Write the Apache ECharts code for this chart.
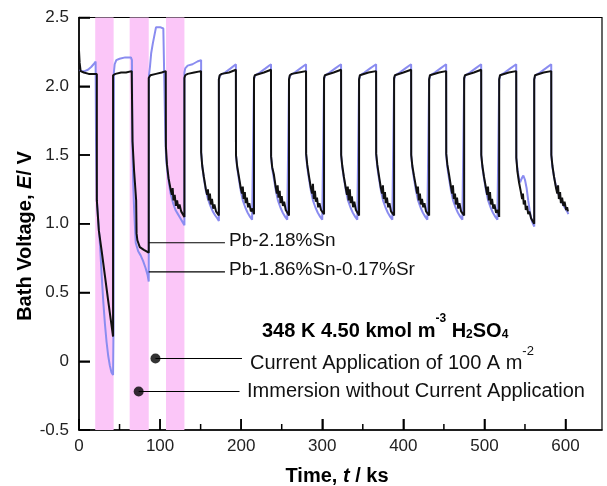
<!DOCTYPE html>
<html>
<head>
<meta charset="utf-8">
<script src="https://cdn.jsdelivr.net/npm/echarts@6/dist/echarts.min.js"></script>
<style>html,body{margin:0;padding:0;background:#fff;}#c{width:607px;height:486px;}</style>
</head>
<body>
<div id="c"></div>
<script>
// ---- data ----
const xTicks = [0, 100, 200, 300, 400, 500, 600];
const xMinorTicks = [50, 150, 250, 350, 450, 550];
const yTicks = [-0.5, 0, 0.5, 1.0, 1.5, 2.0, 2.5];
const bandStart = [20, 62.5, 107.3];
const bandEnd = [42.7, 86, 130];

const seriesNames = ['Pb-2.18%Sn', 'Pb-1.86%Sn-0.17%Sr'];

// Pb-2.18%Sn (black)
const blackData = [
[0,2.26],[0.8,2.17],[2,2.11],[6,2.10],[12,2.09],[22,2.09],
[22,1.17],[24.5,0.95],[28,0.8],[32,0.62],[36,0.44],[39,0.31],[42,0.18],
[42,2.08],[45,2.09],[52,2.10],[58,2.10],[65,2.11],
[66,1.6],[68,1.38],[70.5,1.17],[71,0.93],[72,0.88],[75,0.83],[80,0.81],[86,0.79],
[86,2.06],[88,2.08],[95,2.09],[102,2.10],[107,2.11],
[107.2,1.56],[108.5,1.43],[110.5,1.33],[113,1.25],[114.5,1.21],[115.5,1.26],[116.5,1.17],[118,1.21],[119.5,1.13],[121,1.17],[122.5,1.11],[124,1.14],[126,1.09],[128,1.10],[130,1.05],
[130,2.06],[131,2.08],[134,2.09],[142,2.10],[150.5,2.11],
[150.6,1.52],[152,1.42],[154,1.34],[156.5,1.25],[158,1.21],[159,1.25],[160,1.17],[161.5,1.22],[162.5,1.14],[164,1.18],[165.5,1.11],[167,1.14],[169,1.09],[171,1.1],[172.5,1.06],
[172.5,2.05],[173.5,2.08],[176,2.09],[185,2.10],[193.5,2.12],
[193.6,1.5],[195,1.42],[197,1.35],[199.5,1.26],[201,1.22],[202,1.27],[203,1.18],[204.5,1.23],[205.5,1.15],[207,1.19],[208.5,1.12],[210,1.15],[212,1.09],[214,1.11],[215.8,1.07],
[215.8,2.06],[216.8,2.08],[219,2.09],[228,2.10],[236.8,2.12],
[236.9,1.49],[238.3,1.41],[240.3,1.36],[242.5,1.27],[244,1.22],[245,1.28],[246,1.19],[247.5,1.24],[248.5,1.15],[250,1.2],[251.5,1.13],[253,1.16],[255,1.1],[257,1.11],[259,1.06],
[259,2.05],[260,2.08],[262.5,2.09],[271,2.10],[280,2.11],
[280.1,1.51],[281.5,1.43],[283.5,1.35],[286,1.26],[287.5,1.22],[288.5,1.29],[289.5,1.18],[291,1.24],[292,1.16],[293.5,1.19],[295,1.12],[296.5,1.15],[298.5,1.1],[300.5,1.11],[302.2,1.07],
[302.2,2.06],[303.2,2.08],[305.5,2.09],[314,2.10],[323.2,2.12],
[323.3,1.5],[324.7,1.42],[326.7,1.34],[329,1.26],[330.5,1.21],[331.5,1.27],[332.5,1.17],[334,1.25],[335,1.15],[336.5,1.2],[338,1.12],[339.5,1.16],[341.5,1.1],[343.5,1.11],[345.4,1.06],
[345.4,2.05],[346.4,2.08],[348.5,2.09],[357,2.10],[366.4,2.11],
[366.5,1.51],[367.9,1.43],[369.9,1.35],[372.3,1.26],[373.8,1.22],[374.8,1.28],[375.8,1.18],[377.3,1.23],[378.3,1.15],[379.8,1.19],[381.3,1.12],[382.8,1.15],[384.8,1.09],[386.8,1.1],[388.6,1.06],
[388.6,2.06],[389.6,2.08],[392,2.09],[400,2.10],[409.6,2.12],
[409.7,1.5],[411.1,1.42],[413.1,1.35],[415.5,1.27],[417,1.22],[418,1.27],[419,1.17],[420.5,1.22],[421.5,1.14],[423,1.18],[424.5,1.12],[426,1.15],[428,1.09],[430,1.1],[431.8,1.06],
[431.8,2.05],[432.8,2.08],[435,2.09],[444,2.10],[452.8,2.11],
[452.9,1.51],[454.3,1.43],[456.3,1.36],[458.7,1.27],[460.2,1.22],[461.2,1.28],[462.2,1.18],[463.7,1.22],[464.7,1.14],[466.2,1.19],[467.7,1.11],[469.2,1.15],[471.2,1.09],[473.2,1.1],[475,1.06],
[475,2.06],[476,2.08],[478,2.09],[487,2.10],[496,2.12],
[496.1,1.5],[497.5,1.42],[499.5,1.34],[501.9,1.26],[503.4,1.21],[504.4,1.27],[505.4,1.17],[506.9,1.23],[507.9,1.14],[509.4,1.18],[510.9,1.11],[512.4,1.14],[514.4,1.08],[516.4,1.1],[518.2,1.05],
[518.2,2.05],[519.2,2.08],[521.5,2.09],[530,2.10],[539.2,2.11],
[539.3,1.48],[540.7,1.38],[542.7,1.3],[545,1.23],[546.5,1.18],[547.5,1.22],[548.5,1.14],[550,1.17],[551,1.1],[552.5,1.13],[554,1.07],[555.5,1.09],[557.5,1.04],[559.5,1.05],[561.4,1.0],
[561.4,2.05],[562.4,2.08],[564.5,2.09],[573,2.10],[582.4,2.11],
[582.5,1.5],[583.9,1.42],[585.9,1.34],[588.3,1.26],[589.8,1.22],[590.8,1.28],[591.8,1.18],[593.3,1.23],[594.3,1.15],[595.8,1.19],[597.3,1.13],[598.8,1.16],[600.8,1.1],[602,1.12],[603,1.09]
];

// Pb-1.86%Sn-0.17%Sr (blue)
const blueData = [
[0.5,2.12],[3,2.11],[7,2.11],[11,2.12],[15,2.14],[18,2.16],[20.5,2.18],
[21,1.6],[22,1.17],[24,1.0],[26,0.84],[28,0.62],[30,0.43],[32,0.27],[34,0.14],[36,0.04],[38,-0.03],[40,-0.08],[42,-0.1],
[42.5,0.2],[43,2.1],[44,2.16],[46,2.19],[50,2.2],[57,2.21],[64,2.21],[65.3,2.19],
[65.8,1.6],[66.8,1.3],[68,1.1],[70,0.86],[73,0.8],[76,0.77],[79,0.73],[82,0.68],[84.5,0.63],[86,0.58],
[86.3,2.08],[87.5,2.14],[89,2.24],[91,2.31],[93,2.37],[95,2.43],[100,2.43],[104,2.42],[106.3,2.41],
[106.6,1.6],[107.5,1.47],[109,1.38],[111,1.29],[113,1.22],[116,1.15],[119,1.1],[122,1.07],[125,1.04],[128,1.01],[130,0.99],
[130,2.1],[131,2.13],[134,2.15],[140,2.16],[146,2.18],[150.6,2.19],
[150.7,1.52],[152,1.42],[154,1.33],[156.5,1.24],[159,1.18],[162,1.13],[165,1.09],[168,1.06],[170.5,1.04],[172.5,1.02],
[172.5,2.05],[174,2.08],[180,2.1],[187,2.13],[193.5,2.16],
[193.6,1.5],[195,1.41],[197,1.33],[199.5,1.24],[202,1.17],[205,1.12],[208,1.08],[211,1.05],[213.5,1.03],[215.8,1.02],
[215.8,2.05],[217.3,2.08],[223,2.1],[230,2.13],[236.8,2.16],
[236.9,1.49],[238.3,1.4],[240.3,1.33],[242.8,1.24],[245.3,1.17],[248.3,1.12],[251.3,1.08],[254.3,1.05],[256.8,1.03],[259,1.02],
[259,2.05],[260.5,2.08],[266,2.1],[273,2.13],[280,2.16],
[280.1,1.5],[281.5,1.41],[283.5,1.33],[286,1.24],[288.5,1.17],[291.5,1.12],[294.5,1.08],[297.5,1.05],[300,1.03],[302.2,1.02],
[302.2,2.05],[303.7,2.08],[309,2.1],[316,2.13],[323.2,2.16],
[323.3,1.5],[324.7,1.41],[326.7,1.33],[329.2,1.24],[331.7,1.17],[334.7,1.12],[337.7,1.08],[340.7,1.05],[343.2,1.03],[345.4,1.02],
[345.4,2.05],[346.9,2.08],[352,2.1],[359,2.13],[366.4,2.16],
[366.5,1.5],[367.9,1.41],[369.9,1.33],[372.4,1.24],[374.9,1.17],[377.9,1.12],[380.9,1.08],[383.9,1.05],[386.4,1.03],[388.6,1.02],
[388.6,2.05],[390.1,2.08],[395.5,2.1],[402.5,2.13],[409.6,2.16],
[409.7,1.5],[411.1,1.41],[413.1,1.33],[415.6,1.24],[418.1,1.17],[421.1,1.12],[424.1,1.08],[427.1,1.05],[429.6,1.03],[431.8,1.02],
[431.8,2.05],[433.3,2.08],[438.8,2.1],[445.8,2.13],[452.8,2.16],
[452.9,1.5],[454.3,1.41],[456.3,1.33],[458.8,1.24],[461.3,1.17],[464.3,1.12],[467.3,1.08],[470.3,1.05],[472.8,1.03],[475,1.02],
[475,2.05],[476.5,2.08],[482,2.1],[489,2.13],[496,2.16],
[496.1,1.5],[497.5,1.41],[499.5,1.33],[502,1.24],[504.5,1.17],[507.5,1.12],[510.5,1.08],[513.5,1.05],[516,1.03],[518.2,1.02],
[518.2,2.05],[519.7,2.08],[525,2.1],[532,2.13],[539.2,2.16],
[539.3,1.48],[540.7,1.4],[542.5,1.33],[544,1.3],[546,1.33],[548,1.35],[550,1.32],[552,1.26],[554,1.17],[556,1.09],[558.5,1.02],[561.4,0.98],
[561.4,2.05],[562.9,2.08],[568.5,2.1],[575.5,2.13],[582.4,2.16],
[582.5,1.5],[583.9,1.41],[585.9,1.34],[588.4,1.27],[590.9,1.22],[593.9,1.18],[596.9,1.14],[599.9,1.11],[602,1.09],[603.5,1.07]
];

// annotation anchors (data coordinates)
const leader1 = [[86, 0.862], [180, 0.862]];
const leader2 = [[86, 0.65], [180, 0.65]];
const bulletPts = [[94.3, 0.02], [73.6, -0.22]];
const bulletLine1 = [[94.3, 0.02], [201, 0.02]];
const bulletLine2 = [[73.6, -0.22], [198, -0.22]];

// ---- chart ----
const X_MIN = 0, X_MAX = 645, Y_MIN = -0.5, Y_MAX = 2.5;
const chart = echarts.init(document.getElementById('c'), null, {renderer: 'canvas'});
const FONT = 'Liberation Sans, Arial, Helvetica, sans-serif';
const areas = bandStart.map((s, i) => [{xAxis: s}, {xAxis: bandEnd[i]}]);

const leaderStyle = {color: '#000', width: 1.2};
const option = {
  animation: false,
  backgroundColor: '#fff',
  grid: {left: 79, right: 5, top: 17.5, bottom: 56, show: true, borderColor: '#000', borderWidth: 1.2, backgroundColor: 'transparent'},
  xAxis: {
    type: 'value', min: X_MIN, max: X_MAX, interval: 100,
    axisLine: {show: true, onZero: false, lineStyle: {color: '#000', width: 1.5}},
    axisTick: {show: true, inside: true, length: 11, lineStyle: {color: '#000', width: 1.5}},
    axisLabel: {show: true, margin: 8, fontSize: 17, color: '#222', fontFamily: FONT, showMaxLabel: false,
      formatter: v => (v % 100 === 0 ? String(v) : '')},
    splitLine: {show: false}
  },
  yAxis: {
    type: 'value', min: Y_MIN, max: Y_MAX, interval: 0.5,
    axisLine: {show: true, onZero: false, lineStyle: {color: '#000', width: 1.5}},
    axisTick: {show: true, inside: true, length: 11, lineStyle: {color: '#000', width: 1.5}},
    axisLabel: {show: true, margin: 10, fontSize: 17, color: '#222', fontFamily: FONT,
      formatter: v => (Math.abs(v) < 1e-9 ? '0' : v.toFixed(1))},
    splitLine: {show: false}
  },
  series: [
    {type: 'line', name: 'bands', data: [], z: 1, silent: true,
      markArea: {silent: true, itemStyle: {color: '#fbc6f8'}, data: areas}},
    {type: 'line', name: seriesNames[1], data: blueData, showSymbol: false, symbol: 'none', z: 3,
      lineStyle: {color: '#8a8cf0', width: 2}},
    {type: 'line', name: seriesNames[0], data: blackData, showSymbol: false, symbol: 'none', z: 4,
      lineStyle: {color: '#111', width: 2}},
    {type: 'line', data: leader1, symbol: 'none', z: 5, lineStyle: leaderStyle},
    {type: 'line', data: leader2, symbol: 'none', z: 5, lineStyle: leaderStyle},
    {type: 'line', data: bulletLine1, symbol: 'none', z: 5, lineStyle: leaderStyle},
    {type: 'line', data: bulletLine2, symbol: 'none', z: 5, lineStyle: leaderStyle},
    {type: 'scatter', data: bulletPts, symbol: 'circle', symbolSize: 10, z: 6, itemStyle: {color: '#000'}}
  ],
  graphic: [
    {type: 'text', left: 229, top: 231, z: 10, style: {text: 'Pb-2.18%Sn', font: '19px ' + FONT, fill: '#111'}},
    {type: 'text', left: 229, top: 260, z: 10, style: {text: 'Pb-1.86%Sn-0.17%Sr', font: '19px ' + FONT, fill: '#111'}},
    {type: 'text', left: 262, top: 313, z: 10, style: {
      text: '{a|348 K 4.50 kmol m}{s|-3}{a| H}{b|2}{a|SO}{b|4}',
      rich: {
        a: {fontSize: 20, fontWeight: 'bold', fontFamily: FONT, fill: '#000', lineHeight: 26, verticalAlign: 'bottom'},
        s: {fontSize: 12, fontWeight: 'bold', fontFamily: FONT, fill: '#000', lineHeight: 28, verticalAlign: 'top'},
        b: {fontSize: 12, fontWeight: 'bold', fontFamily: FONT, fill: '#000', lineHeight: 18, verticalAlign: 'bottom'}
      }}},
    {type: 'text', left: 250, top: 345, z: 10, style: {
      text: '{a|Current Application of 100 A m}{s|-2}',
      rich: {
        a: {fontSize: 20, fontFamily: FONT, fill: '#111', lineHeight: 26, verticalAlign: 'bottom'},
        s: {fontSize: 13, fontFamily: FONT, fill: '#111', lineHeight: 28, verticalAlign: 'top'}
      }}},
    {type: 'text', left: 247, top: 381, z: 10, style: {text: 'Immersion without Current Application', font: '20px ' + FONT, fill: '#111'}},
    {type: 'text', x: 337, y: 476, z: 10, style: {
      text: '{a|Time, }{i|t}{a| / ks}', align: 'center', verticalAlign: 'middle',
      rich: {
        a: {fontSize: 20, fontWeight: 'bold', fontFamily: FONT, fill: '#000'},
        i: {fontSize: 20, fontWeight: 'bold', fontStyle: 'italic', fontFamily: FONT, fill: '#000'}
      }}},
    {type: 'text', x: 25, y: 236, rotation: Math.PI / 2, z: 10, style: {
      text: '{a|Bath Voltage, }{i|E}{a|/ V}', align: 'center', verticalAlign: 'middle',
      rich: {
        a: {fontSize: 20, fontWeight: 'bold', fontFamily: FONT, fill: '#000'},
        i: {fontSize: 20, fontWeight: 'bold', fontStyle: 'italic', fontFamily: FONT, fill: '#000'}
      }}}
  ]
};
chart.setOption(option);

// tick marks positioned through the chart's own scales
const tickEls = [];
xTicks.forEach((v, i) => {
  const p = chart.convertToPixel({gridIndex: 0}, [v, Y_MIN]);
  tickEls.push({type: 'line', id: 'xt' + i, z: 20, shape: {x1: p[0], y1: p[1], x2: p[0], y2: p[1] - 11},
    style: {stroke: '#000', lineWidth: 1.5}});
});
xMinorTicks.forEach((v, i) => {
  const p = chart.convertToPixel({gridIndex: 0}, [v, Y_MIN]);
  tickEls.push({type: 'line', id: 'xm' + i, z: 20, shape: {x1: p[0], y1: p[1], x2: p[0], y2: p[1] - 6},
    style: {stroke: '#000', lineWidth: 1.5}});
});
yTicks.forEach((v, i) => {
  const p = chart.convertToPixel({gridIndex: 0}, [X_MIN, v]);
  tickEls.push({type: 'line', id: 'yt' + i, z: 20, shape: {x1: p[0], y1: p[1], x2: p[0] + 11, y2: p[1]},
    style: {stroke: '#000', lineWidth: 1.5}});
});
chart.setOption({graphic: tickEls});
</script>
</body>
</html>
